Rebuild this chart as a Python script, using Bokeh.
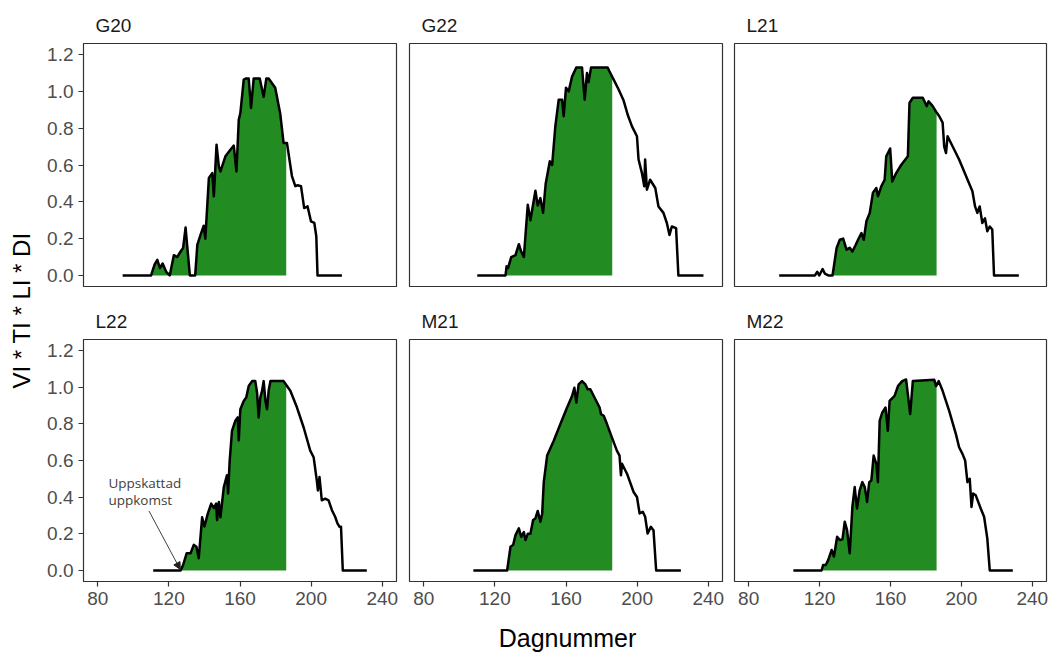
import math
import numpy as np
from bokeh.plotting import figure
from bokeh.layouts import row, column
from bokeh.models import Range1d, FixedTicker, PrintfTickFormatter, Label, Arrow, NormalHead
from bokeh.embed import file_html
from bokeh.resources import INLINE

# ---------------- data ----------------
panel_names = ["G20", "G22", "L21", "L22", "M21", "M22"]
x_ticks = [80, 120, 160, 200, 240]
y_ticks = [0.0, 0.2, 0.4, 0.6, 0.8, 1.0, 1.2]
fill_end_day = 186
emergence_days = [110.0, 126.0, 127.3, 126.6, 126.9, 121.1]

g20_day = [94, 110, 112, 113.5, 115, 116.5, 118.5, 120.5, 122.8, 124.7,
           126.6, 128, 129.4, 131.8, 134.8, 136, 137.8, 139.6, 140.5, 142.5,
           144.4, 145.3, 146.8, 148.1, 149, 151.8, 154.6, 156.5, 158, 159.3,
           160.2, 162.1, 163.2, 164.9, 166.2, 167.7, 171.1, 173.3, 174.8, 176.1,
           179.8, 182.6, 184.5, 186.4, 189.2, 191.1, 192.4, 194.3, 196.1, 198,
           199.9, 201.8, 202.9, 203.6, 217.3]
g20_val = [0, 0, 0.06, 0.085, 0.04, 0.065, 0.02, 0, 0.11, 0.10,
           0.13, 0.15, 0.26, 0, 0, 0.166, 0.22, 0.27, 0.20, 0.53,
           0.556, 0.43, 0.71, 0.592, 0.565, 0.647, 0.683, 0.705, 0.565, 0.846,
           0.882, 1.064, 1.07, 1.07, 0.91, 1.07, 1.07, 0.97, 1.07, 1.07,
           1.02, 0.88, 0.72, 0.72, 0.54, 0.485, 0.49, 0.485, 0.366, 0.375,
           0.294, 0.285, 0.213, 0, 0]

g22_day = [110.1, 126, 126.6, 127.4, 129.2, 131.6, 133.5, 134.8, 136.3, 138.5,
           140, 142.8, 144.1, 145.6, 147.1, 148.6, 150.9, 152.2, 154, 155.9,
           157.8, 158.7, 160, 161.5, 163.4, 165.8, 169, 170.5, 171.8, 172.7,
           174.1, 183.4, 184.9, 186.8, 189.6, 192.4, 194.8, 197.1, 199.9, 200.8,
           202.7, 204, 204.5, 205.5, 207.3, 210.2, 212, 214.8, 216.7, 218.2,
           219.5, 221.9, 223.2, 237.3]
g22_val = [0, 0, 0.05, 0.04, 0.10, 0.11, 0.17, 0.13, 0.10, 0.384,
           0.30, 0.46, 0.38, 0.42, 0.34, 0.50, 0.62, 0.60, 0.81, 0.955,
           0.955, 0.865, 1.02, 1.0, 1.08, 1.13, 1.13, 0.955, 1.10, 1.05,
           1.13, 1.13, 1.10, 1.064, 1.01, 0.95, 0.87, 0.81, 0.756, 0.63,
           0.556, 0.484, 0.63, 0.466, 0.52, 0.475, 0.375, 0.34, 0.285, 0.22,
           0.266, 0.257, 0, 0]

l21_day = [97.2, 117.4, 118.7, 119.8, 121.7, 123, 124.9, 127.3, 129.6, 131.4,
           133.3, 135.2, 137, 138.5, 140.4, 141.7, 143.6, 144.9, 146.4, 148.3,
           150.1, 152, 152.9, 154.8, 156.7, 157.6, 159.8, 161, 163.2, 166,
           169.8, 170.7, 172.6, 178.2, 180.4, 181.5, 183.8, 185.7, 187.5, 189.4,
           190.3, 191.3, 192.2, 198.7, 206.2, 207.7, 209, 210.3, 211.8, 213.3,
           214.6, 216, 217.4, 218.4, 232.4]
l21_val = [0, 0, 0.02, 0, 0.035, 0.01, 0, 0, 0.149, 0.194,
           0.2, 0.14, 0.15, 0.13, 0.167, 0.194, 0.23, 0.194, 0.294, 0.34,
           0.45, 0.475, 0.43, 0.484, 0.52, 0.647, 0.69, 0.51, 0.556, 0.6,
           0.647, 0.937, 0.965, 0.965, 0.92, 0.946, 0.92, 0.89, 0.865, 0.83,
           0.70, 0.665, 0.756, 0.63, 0.457, 0.375, 0.34, 0.375, 0.285, 0.31,
           0.24, 0.266, 0.25, 0, 0]

l22_day = [111.2, 126.6, 128, 130, 132.2, 134, 135.5, 136.8, 138.7, 140,
           141.9, 143.8, 145.3, 146.6, 147.1, 148.1, 149, 150.9, 152.7, 153.3,
           154.2, 155.5, 157.4, 158.7, 159.3, 160.2, 162.1, 163.5, 164.9, 166.8,
           168.6, 169.6, 170.5, 171.4, 172.4, 173.3, 174.3, 175.2, 176.1, 177.1,
           184.5, 186.4, 188.3, 192, 195.8, 199.5, 201.4, 203.2, 203.8, 204.7,
           206, 207.9, 209.8, 211.7, 213.5, 214.8, 216, 216.8, 217.8, 231.3]
l22_val = [0, 0, 0.03, 0.094, 0.094, 0.14, 0.13, 0.067, 0.29, 0.24,
           0.31, 0.365, 0.34, 0.365, 0.275, 0.374, 0.29, 0.455, 0.52, 0.42,
           0.6, 0.762, 0.817, 0.835, 0.71, 0.88, 0.925, 0.943, 1.006, 1.033,
           1.033, 0.97, 0.835, 0.943, 0.98, 1.033, 0.925, 0.88, 0.98, 1.033,
           1.033, 1.006, 0.98, 0.89, 0.78, 0.654, 0.618, 0.49, 0.437, 0.51,
           0.383, 0.392, 0.383, 0.329, 0.293, 0.257, 0.238, 0.238, 0, 0]

m21_day = [107.9, 126.9, 128.8, 130.3, 131.6, 133.5, 134.8, 136.3, 137.2, 138.5,
           140, 141.5, 142.8, 144.1, 145.6, 146.6, 147.5, 149.4, 153.1, 156.9,
           160.6, 163.4, 164.7, 165.8, 167.1, 169, 170.9, 172.2, 173.7, 175.6,
           178.9, 179.7, 181.2, 183, 185.8, 188.6, 190.1, 190.9, 191.5, 194.3,
           198, 199.9, 201.4, 203.2, 204.5, 205.9, 207.7, 209.2, 210.7, 224.6]
m21_val = [0, 0, 0.13, 0.14, 0.193, 0.23, 0.184, 0.21, 0.166, 0.2,
           0.2, 0.275, 0.284, 0.325, 0.266, 0.31, 0.482, 0.627, 0.708, 0.8,
           0.889, 0.952, 0.997, 0.916, 1.015, 1.033, 1.015, 0.988, 0.988, 0.952,
           0.889, 0.853, 0.844, 0.8, 0.726, 0.654, 0.627, 0.519, 0.582, 0.528,
           0.428, 0.401, 0.311, 0.32, 0.293, 0.202, 0.238, 0.22, 0, 0]

m22_day = [105.2, 121.1, 122, 123.5, 124.9, 126.8, 128.1, 129.9, 131.4, 132.9,
           134.2, 135.5, 137, 138.5, 139.8, 141.1, 142.6, 144.1, 145.5, 146.8,
           148, 149.2, 150.5, 152, 152.9, 153.9, 155.4, 157.2, 158.5, 159.5,
           162.3, 164.2, 166.6, 168.8, 171.1, 172.6, 184.7, 185.7, 187.2, 189.4,
           193.1, 196.9, 198.7, 200.6, 202.1, 203.4, 204.7, 205.7, 206.6, 208.1,
           210.9, 212.8, 214.6, 216, 229]
m22_val = [0, 0, 0.03, 0.03, 0.058, 0.112, 0.076, 0.184, 0.166, 0.17,
           0.266, 0.22, 0.094, 0.347, 0.455, 0.338, 0.437, 0.482, 0.455, 0.374,
           0.482, 0.491, 0.627, 0.582, 0.482, 0.817, 0.862, 0.889, 0.762, 0.925,
           0.952, 1.006, 1.033, 1.042, 0.853, 1.033, 1.04, 1.006, 1.033, 0.98,
           0.871, 0.744, 0.672, 0.636, 0.6, 0.482, 0.5, 0.347, 0.42, 0.41,
           0.338, 0.293, 0.175, 0, 0]

all_days = [g20_day, g22_day, l21_day, l22_day, m21_day, m22_day]
all_vals = [g20_val, g22_val, l21_val, l22_val, m21_val, m22_val]

# ---------------- styling ----------------
FONT = "Liberation Sans"
GREEN = "#228B22"
FRAME_W = [313, 313, 312]
FRAME_H = [243, 242]
LEFT_B = [47, 7, 6]
RIGHT_B = [6, 6, 5]
TOP_B = [43, 39]
BOTTOM_B = [14, 35]
YLAB_W = 36
XLAB_H = 37

XR = Range1d(72, 248)
YR = Range1d(-0.06, 1.26)


def make_panel(i):
    r, c = divmod(i, 3)
    days = np.array(all_days[i], dtype=float)
    vals = np.array(all_vals[i], dtype=float)
    p = figure(frame_width=FRAME_W[c], frame_height=FRAME_H[r],
               x_range=XR, y_range=YR,
               x_axis_location="below" if r == 1 else None,
               y_axis_location="left" if c == 0 else None,
               min_border_left=LEFT_B[c], min_border_right=RIGHT_B[c],
               min_border_top=TOP_B[r], min_border_bottom=BOTTOM_B[r],
               title=panel_names[i],
               output_backend="svg", toolbar_location=None)
    p.title.align = "left"
    p.title.offset = 12
    p.title.standoff = 16
    p.title.text_font = FONT
    p.title.text_font_size = "19px"
    p.title.text_font_style = "normal"
    p.title.text_color = "#1a1a1a"
    p.outline_line_color = "#333333"
    p.outline_line_width = 1.2
    p.grid.visible = False
    p.background_fill_color = "white"
    p.border_fill_color = "white"

    for ax in p.axis:
        ax.axis_line_color = None
        ax.major_tick_line_color = "#333333"
        ax.major_tick_line_width = 1.2
        ax.major_tick_out = 5
        ax.major_tick_in = 0
        ax.minor_tick_line_color = None
        ax.major_label_standoff = 5
        ax.major_label_text_font = FONT
        ax.major_label_text_font_size = "19px"
        ax.major_label_text_color = "#4d4d4d"
    if r == 1:
        p.xaxis.ticker = FixedTicker(ticks=x_ticks)
    if c == 0:
        p.yaxis.ticker = FixedTicker(ticks=y_ticks)
        p.yaxis.formatter = PrintfTickFormatter(format="%.1f")

    # green area between estimated emergence and fill_end_day
    e = emergence_days[i]
    mask = (days > e) & (days < fill_end_day)
    fx = np.concatenate([[e], days[mask], [fill_end_day]])
    fy = np.concatenate([[np.interp(e, days, vals)], vals[mask],
                         [np.interp(fill_end_day, days, vals)]])
    p.varea(x=fx, y1=0, y2=fy, fill_color=GREEN, fill_alpha=1.0)
    p.line(days, vals, line_color="black", line_width=2.5, line_join="round")
    return p


panels = [make_panel(i) for i in range(6)]

# annotation in L22
p_l22 = panels[3]
for txt, yy in (("Uppskattad", 0.479), ("uppkomst", 0.387)):
    p_l22.add_layout(Label(x=86.0, y=yy, text=txt, text_font="Open Sans",
                           text_font_size="13.5px", text_color="#404040",
                           text_baseline="alphabetic", text_align="left"))
p_l22.add_layout(Arrow(x_start=108.8, y_start=0.325, x_end=126.4, y_end=0.006,
                       line_color="#404040", line_width=1,
                       end=NormalHead(size=7, fill_color="#202020",
                                      line_color="#202020", line_width=1)))

total_h = sum(TOP_B) + sum(FRAME_H) + sum(BOTTOM_B) + XLAB_H

# y-axis title figure
ylab = figure(frame_width=YLAB_W, frame_height=total_h, x_range=(0, YLAB_W),
              y_range=(0, total_h), min_border=0, x_axis_location=None,
              y_axis_location=None, output_backend="svg", toolbar_location=None)
ylab.outline_line_color = None
ylab.grid.visible = False
ylab.add_layout(Label(x=21, y=total_h - 310, text="VI * TI * LI * DI", angle=math.pi / 2,
                      text_font=FONT, text_font_size="24px", text_color="black",
                      text_align="center", text_baseline="middle"))

# x-axis title figure
xw = sum(LEFT_B) + sum(RIGHT_B) + sum(FRAME_W)
xlab = figure(frame_width=xw, frame_height=XLAB_H, x_range=(0, xw), y_range=(0, XLAB_H),
              min_border=0, x_axis_location=None, y_axis_location=None,
              output_backend="svg", toolbar_location=None)
xlab.outline_line_color = None
xlab.grid.visible = False
xlab.add_layout(Label(x=567 - YLAB_W, y=16, text="Dagnummer", text_font=FONT,
                      text_font_size="25px", text_color="black",
                      text_align="center", text_baseline="middle"))

layout = row(ylab, column(row(*panels[:3]), row(*panels[3:]), xlab))

open("out.html", "w").write(file_html(layout, INLINE))
